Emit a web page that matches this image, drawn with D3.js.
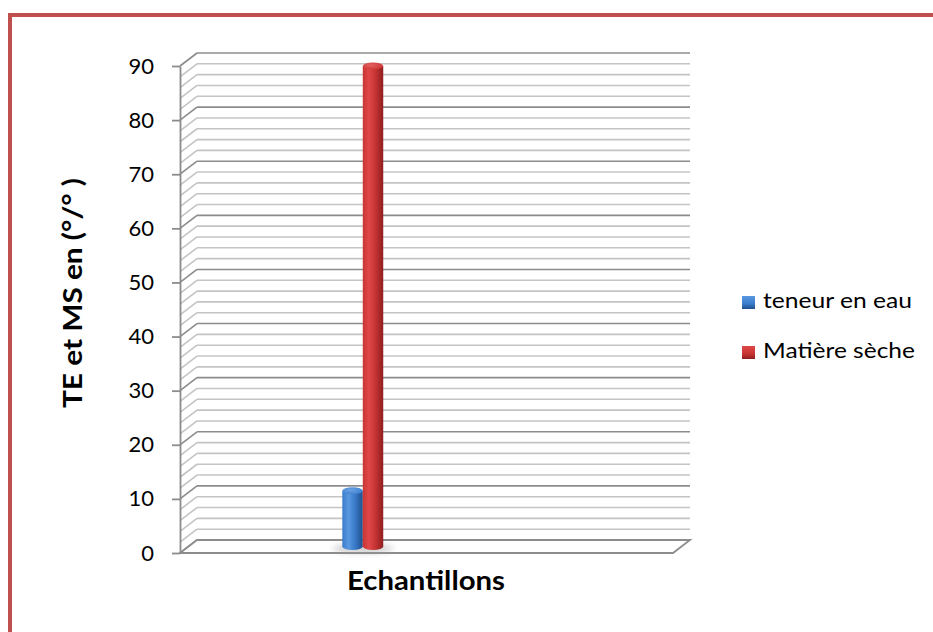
<!DOCTYPE html>
<html>
<head>
<meta charset="utf-8">
<script src="https://cdn.jsdelivr.net/npm/d3@7"></script>
<style>
  html, body { margin: 0; padding: 0; background: #fff; }
  svg { display: block; }
  text { font-family: Lato, "Open Sans", sans-serif; }
</style>
</head>
<body>
<div id="chart"></div>
<script>
// Data
const categories = ["Echantillons"];
const seriesNames = ["teneur en eau", "Matière sèche"];
const seriesValues = [10.3, 88.8];
const yTicks = [0, 10, 20, 30, 40, 50, 60, 70, 80, 90];
const yTitle = "TE et MS en (°/° )";

const W = 933, H = 632;
const svg = d3.select("#chart").append("svg").attr("width", W).attr("height", H);
const defs = svg.append("defs");

// Frame
svg.append("rect")
  .attr("x", 10).attr("y", 15).attr("width", W + 20).attr("height", H + 20)
  .attr("fill", "none").attr("stroke", "#c0504d").attr("stroke-width", 4);

// Plot geometry (front plane + depth offset of the 3D box)
const left = 180, right = 673;
const depthX = 17, depthY = -13;
const y = d3.scaleLinear().domain([0, 90]).range([553, 66]);

// Category scale along the floor, series scale inside the category
const xCat = d3.scaleBand().domain(categories).range([left, right]).paddingInner(0).paddingOuter(0);
const xSer = d3.scaleBand().domain(seriesNames)
  .range([xCat(categories[0]) + xCat.bandwidth() * 0.312, xCat(categories[0]) + xCat.bandwidth() * 0.395]);

const gridG = svg.append("g");
const gridVals = d3.range(0, 91, 2);

// Back wall gridlines
gridG.selectAll("line.back").data(gridVals).join("line")
  .attr("class", "back")
  .attr("x1", left + depthX).attr("x2", right + depthX)
  .attr("y1", d => y(d) + depthY).attr("y2", d => y(d) + depthY)
  .attr("stroke", d => d % 10 === 0 ? "#8c8c8c" : "#c4c4c4")
  .attr("stroke-width", 1.6);

// Side wall gridlines
gridG.selectAll("line.side").data(gridVals).join("line")
  .attr("class", "side")
  .attr("x1", left).attr("x2", left + depthX)
  .attr("y1", d => y(d)).attr("y2", d => y(d) + depthY)
  .attr("stroke", d => d % 10 === 0 ? "#8c8c8c" : "#c4c4c4")
  .attr("stroke-width", 1.6);

// Floor
gridG.append("path")
  .attr("d", `M${left},${y(0)} L${right},${y(0)} L${right + depthX},${y(0) + depthY} L${left + depthX},${y(0) + depthY} Z`)
  .attr("fill", "#fff").attr("stroke", "#8c8c8c").attr("stroke-width", 1.8);

// Y axis
const yAxis = d3.axisLeft(y).tickValues(yTicks).tickSize(8).tickPadding(18).tickSizeOuter(0);
const axG = svg.append("g").attr("transform", `translate(${left},0)`).call(yAxis);
axG.select(".domain").attr("stroke", "#8c8c8c").attr("stroke-width", 1.8);
axG.selectAll(".tick line").attr("stroke", "#8c8c8c").attr("stroke-width", 1.8);
axG.selectAll(".tick text")
  .attr("fill", "#000").style("font-size", "22px").style("font-family", "Lato, sans-serif");

// Bar gradients
const colors = {
  "teneur en eau": { dark: "#1f4f8c", mid: "#3a7ccb", light: "#5a98e0", cap: "#6aa4e6" },
  "Matière sèche": { dark: "#8e1f1f", mid: "#c83434", light: "#e04848", cap: "#e66060" }
};
seriesNames.forEach((s, i) => {
  const c = colors[s];
  const g = defs.append("linearGradient").attr("id", "body" + i).attr("x1", "0").attr("x2", "1").attr("y1", "0").attr("y2", "0");
  g.append("stop").attr("offset", "0").attr("stop-color", c.mid);
  g.append("stop").attr("offset", "0.3").attr("stop-color", c.light);
  g.append("stop").attr("offset", "0.6").attr("stop-color", c.mid);
  g.append("stop").attr("offset", "1").attr("stop-color", c.dark);
  const t = defs.append("radialGradient").attr("id", "cap" + i).attr("cx", "0.4").attr("cy", "0.4").attr("r", "0.7");
  t.append("stop").attr("offset", "0").attr("stop-color", c.cap);
  t.append("stop").attr("offset", "1").attr("stop-color", c.mid);
  const lg = defs.append("linearGradient").attr("id", "leg" + i).attr("x1", "0").attr("x2", "0").attr("y1", "0").attr("y2", "1");
  lg.append("stop").attr("offset", "0").attr("stop-color", c.light);
  lg.append("stop").attr("offset", "0.6").attr("stop-color", c.mid);
  lg.append("stop").attr("offset", "1").attr("stop-color", c.dark);
});

// Soft shadow under the bars
const blur = defs.append("filter").attr("id", "shadowBlur").attr("x", "-50%").attr("y", "-200%").attr("width", "200%").attr("height", "500%");
blur.append("feGaussianBlur").attr("stdDeviation", 3);

const midX = depthX / 2, midY = depthY / 2;
const baseY = y(0) + midY;
const ry = 3.5;

const bars = seriesNames.map((s, i) => ({ name: s, value: seriesValues[i], i }));
const span = d3.extent(bars.flatMap(b => [xSer(b.name), xSer(b.name) + xSer.bandwidth()]));
svg.append("ellipse")
  .attr("cx", (span[0] + span[1]) / 2 + midX).attr("cy", baseY + 2)
  .attr("rx", (span[1] - span[0]) / 2 + 10).attr("ry", 4)
  .attr("fill", "#9a9a9a").attr("opacity", 0.55).attr("filter", "url(#shadowBlur)");

const barG = svg.append("g");
bars.forEach(b => {
  const x0 = xSer(b.name) + midX;
  const w = xSer.bandwidth();
  const top = y(b.value) + midY;
  const g = barG.append("g");
  g.append("ellipse").attr("cx", x0 + w / 2).attr("cy", baseY).attr("rx", w / 2).attr("ry", ry)
    .attr("fill", `url(#body${b.i})`);
  g.append("rect").attr("x", x0).attr("y", top).attr("width", w).attr("height", baseY - top)
    .attr("fill", `url(#body${b.i})`);
  g.append("ellipse").attr("cx", x0 + w / 2).attr("cy", top).attr("rx", w / 2).attr("ry", ry)
    .attr("fill", `url(#cap${b.i})`);
});

// Axis titles
svg.append("text")
  .attr("transform", `translate(71,293) rotate(-90)`)
  .attr("text-anchor", "middle").attr("dominant-baseline", "central")
  .attr("textLength", 230).attr("lengthAdjust", "spacingAndGlyphs")
  .style("font-size", "27px").style("font-weight", "bold").attr("fill", "#000")
  .text(yTitle);

svg.append("text")
  .attr("x", 426).attr("y", 590)
  .attr("text-anchor", "middle")
  .attr("textLength", 158).attr("lengthAdjust", "spacingAndGlyphs")
  .style("font-size", "27px").style("font-weight", "bold").attr("fill", "#000")
  .text(categories[0]);

// Legend
const legend = svg.append("g").attr("transform", "translate(742,296)");
const legLengths = [149, 152];
seriesNames.forEach((s, i) => {
  const row = legend.append("g").attr("transform", `translate(0,${i * 50})`);
  row.append("rect").attr("width", 13).attr("height", 13).attr("fill", `url(#leg${i})`);
  row.append("text").attr("x", 21).attr("y", 12)
    .attr("textLength", legLengths[i]).attr("lengthAdjust", "spacingAndGlyphs")
    .style("font-size", "21px").attr("fill", "#000").text(s);
});
</script>
</body>
</html>
